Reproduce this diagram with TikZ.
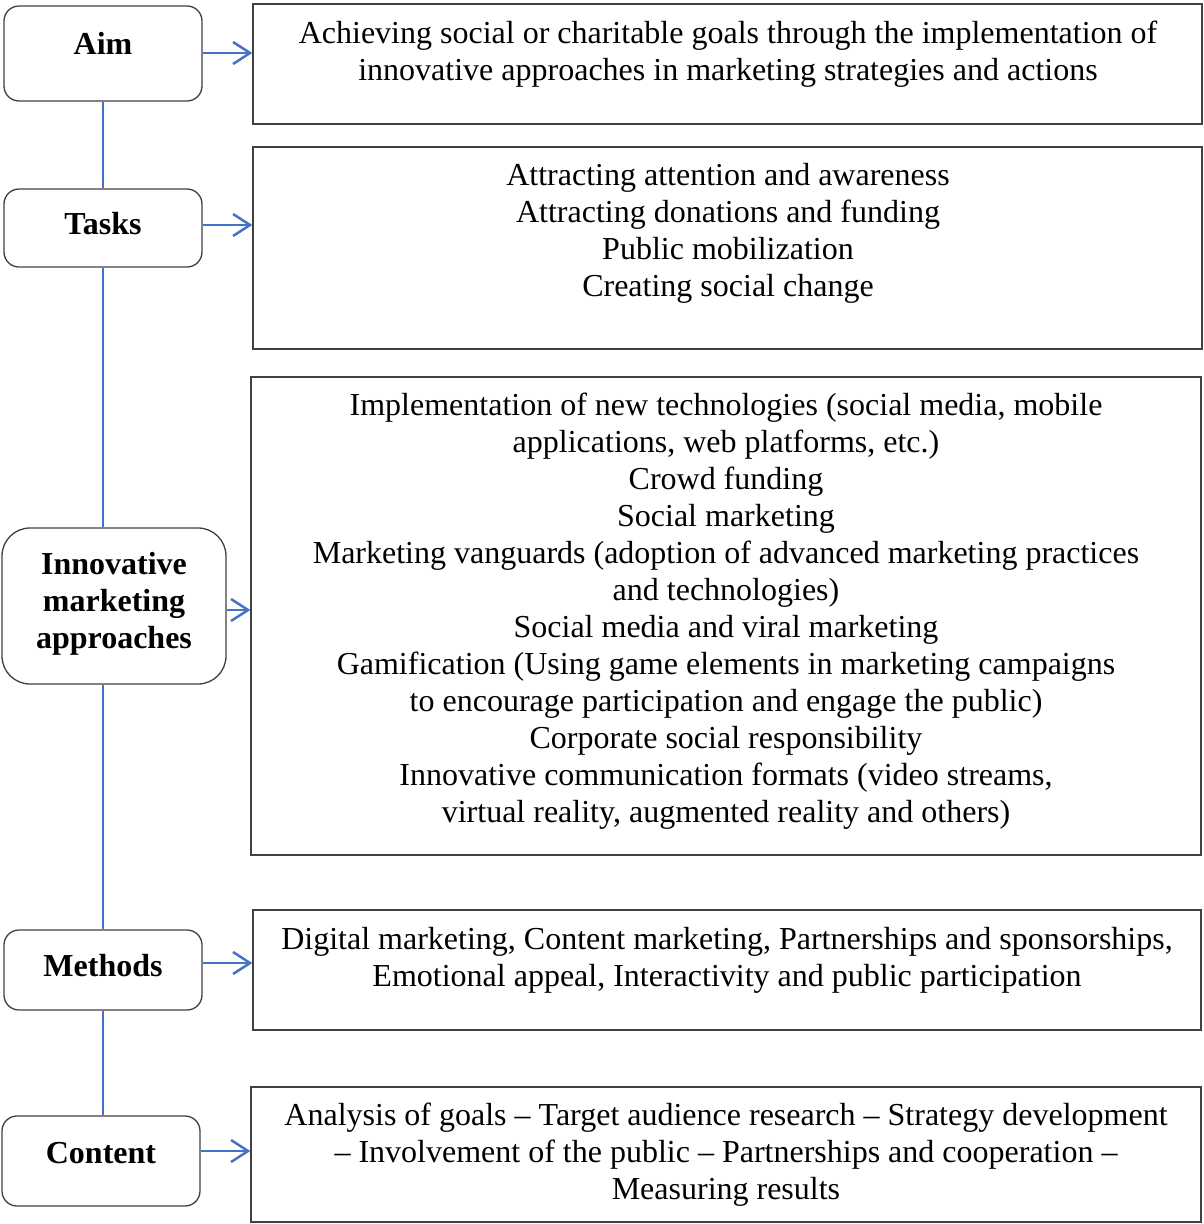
\documentclass[tikz,border=0pt]{standalone}
\usepackage{fontspec}
\setmainfont{Liberation Serif}
\usetikzlibrary{arrows.meta}
\definecolor{connblue}{HTML}{4472C4}
\definecolor{boxgray}{HTML}{404040}
\tikzset{
  leftbox/.style={draw=boxgray, line width=1.3pt, rounded corners=15pt, inner sep=0pt},
  rightbox/.style={draw=boxgray, line width=1.3pt, inner sep=0pt},
  lbl/.style={font=\fontsize{32}{37}\selectfont\bfseries, align=center, inner sep=0pt},
  txt/.style={font=\fontsize{32}{37}\selectfont, align=center, inner sep=0pt},
  conn/.style={draw=connblue, line width=2pt},
  arr/.style={draw=connblue, line width=2.5pt, -{Straight Barb[length=17pt,width=22pt,line width=2.5pt]}},
}
\begin{document}
\begin{tikzpicture}[x=1pt,y=-1pt]
\useasboundingbox (0,0) rectangle (1203,1224);
% left boxes
\node[leftbox, minimum width=198pt, minimum height=95pt] (aim) at (103,53.5) {};
\node[lbl] (aiml) at (103,43) {Aim};
\node[leftbox, minimum width=198pt, minimum height=78pt] (tasks) at (103,228) {};
\node[lbl] (tasksl) at (103,224) {Tasks};
\node[leftbox, rounded corners=28pt, minimum width=224pt, minimum height=156pt] (innov) at (114,606) {};
\node[lbl] (innovl) at (114,604) {Innovative\\marketing\\approaches};
\node[leftbox, minimum width=198pt, minimum height=80pt] (meth) at (103,970) {};
\node[lbl] (methl) at (103,966) {Methods};
\node[leftbox, minimum width=198pt, minimum height=90pt] (cont) at (101,1161) {};
\node[lbl] (contl) at (101,1153) {Content};
% right boxes
\node[rightbox, minimum width=949pt, minimum height=120pt] (b1) at (727.5,64) {};
\node[txt] (t1) at (728,54.5) {Achieving social or charitable goals through the implementation of\\innovative approaches in marketing strategies and actions};
\node[rightbox, minimum width=949pt, minimum height=202pt] (b2) at (727.5,248) {};
\node[txt] (t2) at (728,233.5) {Attracting attention and awareness\\Attracting donations and funding\\Public mobilization\\Creating social change};
\node[rightbox, minimum width=950pt, minimum height=478pt] (b3) at (726,616) {};
\node[txt] (t3) at (726,611.5) {Implementation of new technologies (social media, mobile\\applications, web platforms, etc.)\\Crowd funding\\Social marketing\\Marketing vanguards (adoption of advanced marketing practices\\and technologies)\\Social media and viral marketing\\Gamification (Using game elements in marketing campaigns\\to encourage participation and engage the public)\\Corporate social responsibility\\Innovative communication formats (video streams,\\virtual reality, augmented reality and others)};
\node[rightbox, minimum width=948pt, minimum height=120pt] (b4) at (727,970) {};
\node[txt] (t4) at (727,960.5) {Digital marketing, Content marketing, Partnerships and sponsorships,\\Emotional appeal, Interactivity and public participation};
\node[rightbox, minimum width=950pt, minimum height=135pt] (b5) at (726,1154.5) {};
\node[txt] (t5) at (726,1155) {Analysis of goals -- Target audience research -- Strategy development\\-- Involvement of the public -- Partnerships and cooperation --\\Measuring results};
% vertical connectors
\draw[conn] (aim.south) -- (aim.south |- tasks.north);
\draw[conn] (tasks.south) -- (tasks.south |- innov.north);
\draw[conn] (tasks.south |- innov.south) -- (meth.north);
\draw[conn] (meth.south) -- (meth.south |- cont.north);
% arrows (yshift is in canvas units: negative moves down)
\draw[arr] ([yshift=-10pt]aiml -| aim.east) -- ([yshift=-10pt]aiml -| b1.west);
\draw[arr] ([yshift=-1pt]tasksl -| tasks.east) -- ([yshift=-1pt]tasksl -| b2.west);
\draw[arr] ([yshift=-6pt]innovl -| innov.east) -- ([yshift=-6pt]innovl -| b3.west);
\draw[arr] ([yshift=3pt]methl -| meth.east) -- ([yshift=3pt]methl -| b4.west);
\draw[arr] ([yshift=2pt]contl -| cont.east) -- ([yshift=2pt]contl -| b5.west);
\end{tikzpicture}
\end{document}
